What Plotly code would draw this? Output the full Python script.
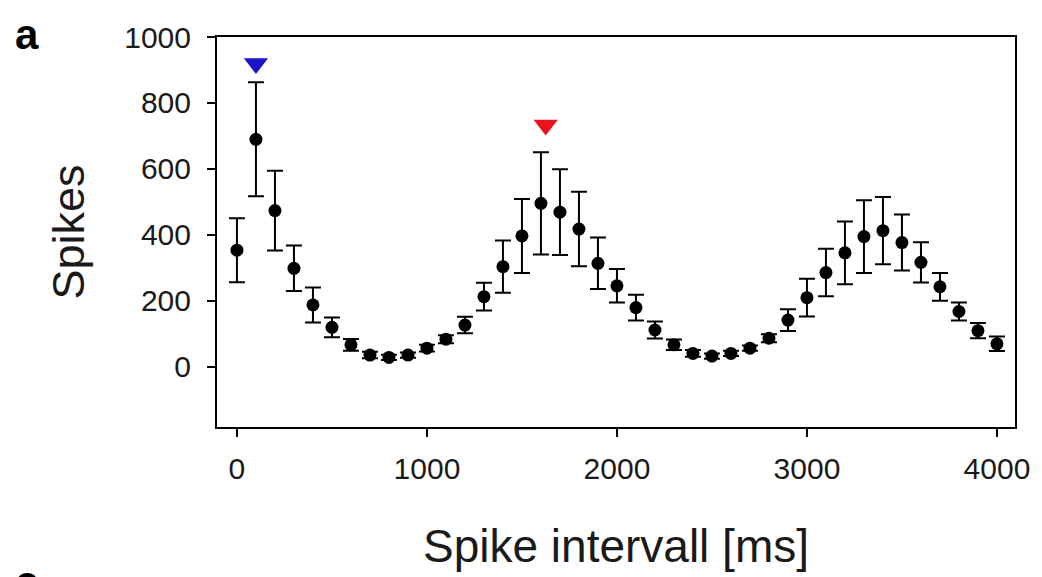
import plotly.graph_objects as go

# spike interval histogram (mean +/- error)
interval_ms = [0, 100, 200, 300, 400, 500, 600, 700, 800, 900,
               1000, 1100, 1200, 1300, 1400, 1500, 1600, 1700, 1800, 1900,
               2000, 2100, 2200, 2300, 2400, 2500, 2600, 2700, 2800, 2900,
               3000, 3100, 3200, 3300, 3400, 3500, 3600, 3700, 3800, 3900, 4000]
spikes = [354, 690, 474, 299, 188, 120, 67, 36, 29, 36,
          57, 84, 127, 213, 304, 397, 496, 469, 418, 314,
          246, 180, 112, 67, 41, 33, 41, 57, 87, 142,
          210, 286, 346, 395, 413, 377, 317, 243, 168, 110, 70]
spikes_err = [97, 173, 121, 69, 53, 30, 18, 10, 8, 8,
              10, 12, 25, 42, 79, 112, 155, 130, 113, 78,
              51, 39, 26, 16, 10, 8, 8, 8, 12, 33,
              57, 72, 95, 110, 102, 85, 61, 42, 27, 23, 22]

# peak markers
blue_x, blue_y = [100], [920]
red_x, red_y = [1625], [733]

FONT = "Liberation Sans, Arial, sans-serif"
TXT = "#1a1a1a"

fig = go.Figure()
fig.add_trace(go.Scatter(
    x=interval_ms, y=spikes, mode="markers",
    marker=dict(symbol="circle", size=13, color="black"),
    error_y=dict(type="data", array=spikes_err, visible=True,
                 color="black", thickness=2, width=8),
    showlegend=False,
))
fig.add_trace(go.Scatter(
    x=blue_x, y=blue_y, mode="markers",
    marker=dict(symbol="triangle-down", size=21, color="#1c14c8"),
    showlegend=False,
))
fig.add_trace(go.Scatter(
    x=red_x, y=red_y, mode="markers",
    marker=dict(symbol="triangle-down", size=21, color="#e8141c"),
    showlegend=False,
))

axis_common = dict(
    showline=True, linecolor="black", linewidth=2, mirror=True,
    ticks="outside", ticklen=8, tickwidth=2, tickcolor="black",
    showgrid=False, zeroline=False,
    tickfont=dict(family=FONT, size=30, color=TXT),
)

fig.update_xaxes(
    range=[-105, 4095], tickvals=[0, 1000, 2000, 3000, 4000],
    ticklabelstandoff=6,
    title=dict(text="Spike intervall [ms]", standoff=46,
               font=dict(family=FONT, size=46, color=TXT)),
    **axis_common,
)
fig.update_yaxes(
    range=[-182, 1000], tickvals=[0, 200, 400, 600, 800, 1000],
    ticklabelstandoff=10,
    title=dict(text="Spikes", standoff=26,
               font=dict(family=FONT, size=45, color=TXT)),
    **axis_common,
)

# panel letters (the "c" of the next panel is cut by the bottom edge)
fig.add_annotation(text="<b>a</b>", xref="paper", yref="paper",
                   x=-0.256, y=1.072, xanchor="left", yanchor="top",
                   showarrow=False, font=dict(family=FONT, size=42, color="black"))
fig.add_annotation(text="<b>c</b>", xref="paper", yref="paper",
                   x=-0.256, y=-0.331, xanchor="left", yanchor="top",
                   showarrow=False, font=dict(family=FONT, size=42, color="black"))

# page body has an 8px margin, so the figure is 8px smaller than the window
fig.update_layout(
    width=1034, height=569,
    margin=dict(l=209, r=27, t=29, b=150),
    paper_bgcolor="white", plot_bgcolor="white",
)

fig.write_html("out.html")
